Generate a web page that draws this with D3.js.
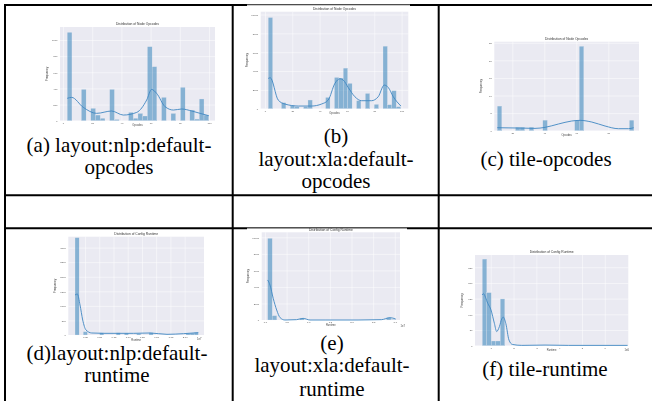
<!DOCTYPE html>
<html>
<head>
<meta charset="utf-8">
<script src="https://cdn.jsdelivr.net/npm/d3@7"></script>
<style>
  html, body { margin: 0; padding: 0; background: #fff; }
  svg { display: block; }
</style>
</head>
<body>
<div id="plot"></div>
<script>
// histogram counts per bin
var nlpOpcodeCounts = [1095,0,0,388,0,153,70,30,0,388,15,0,0,103,30,90,58,917,669,0,289,0,90,0,413,0,132,20,269,70];
var xlaOpcodeCounts = [9680,0,0,640,0,350,210,0,210,920,0,0,0,1200,0,3320,3250,4310,2690,0,850,0,1620,0,460,0,6640,420,1910,210];
var tileOpcodeCounts = [7,0,0,0,1,1,0,1,0,0,3,0,0,0,0,0,0,3,24,0,0,0,0,0,0,0,0,0,0,3];
var nlpRuntimeCounts = [3340,0,114,0,0,0,75,0,0,0,75,0,65,0,0,45,0,0,80,0,0,0,0,0,0,0,0,55,65,85];
var xlaRuntimeCounts = [9880,520,0,0,0,0,0,200,0,0,0,0,0,0,0,0,0,0,0,0,0,0,0,0,0,0,280,60];
var tileRuntimeCounts = [276,169,15,15,149];

// kde curves, points [x, count]
var nlpOpcodeKde = [[2.9,277],[5.9,289],[13.9,165],[23,91],[33.3,120],[41.3,70],[50.5,103],[57.3,256],[60.7,388],[64.1,339],[69.9,174],[75.6,132],[81.3,145],[88.2,120],[93.9,91],[99.8,62]];
var xlaOpcodeKde = [[2.4,3216],[3.9,3286],[9.7,919],[14.6,495],[24.4,283],[34.1,283],[41.4,495],[46.3,919],[51.2,2686],[54.9,3180],[57.3,3039],[60.9,2261],[65.8,1272],[70.7,848],[78,848],[82.9,1272],[87.3,2509],[90.2,2261],[93.9,1272],[99.5,283]];
var tileOpcodeKde = [[10.6,0.85],[23.8,0.76],[34.2,0.66],[40.5,0.95],[48.8,1.9],[57.1,2.75],[62.4,2.94],[69.7,2.46],[78,1.33],[86.3,0.57],[92.6,0.57],[95.9,0.85]];
var nlpRuntimeKde = [[0.074,1373],[0.115,1407],[0.162,1030],[0.209,515],[0.267,172],[0.367,69],[0.57,57],[0.81,57],[1.1,57],[1.39,69],[1.69,23],[1.98,46],[2.24,80]];
var xlaRuntimeKde = [[0.062,4839],[0.115,4234],[0.19,2621],[0.27,1210],[0.35,282],[0.46,0],[0.73,40],[0.88,200],[1.04,0],[1.39,0],[2.15,0],[2.69,40],[2.89,282],[3.02,120]];
var tileRuntimeKde = [[0.63,162],[0.67,166],[0.87,135],[1.01,114],[1.16,71],[1.26,45],[1.38,61],[1.48,85],[1.55,91],[1.66,71],[1.8,18],[1.95,4],[2.36,1],[3.38,2],[4.4,1],[7.0,1]];

// tick values
var opcodeTicks = [0,20,40,60,80,100];
var tileOpcodeTicks = [20,40,60,80];
var nlpRuntimeTicks = [0.25,0.5,0.75,1,1.25,1.5,1.75,2];
var xlaRuntimeTicks = [0,0.5,1,1.5,2,2.5,3];
var tileRuntimeTicks = [1,2,3,4,5,6];
var yTicksA = [0,200,400,600,800,1000];
var yTicksB = [0,2000,4000,6000,8000,10000];
var yTicksC = [0,5,10,15,20,25];
var yTicksD = [0,500,1000,1500,2000,2500,3000];
var yTicksF = [0,50,100,150,200,250];

var captions = [
  {lines: ["(a) layout:nlp:default-", "opcodes"], x: 119, ys: [152, 174]},
  {lines: ["(b)", "layout:xla:default-", "opcodes"], x: 336, ys: [142.5, 166, 188]},
  {lines: ["(c) tile-opcodes"], x: 546, ys: [165.5]},
  {lines: ["(d)layout:nlp:default-", "runtime"], x: 117, ys: [360, 382]},
  {lines: ["(e)", "layout:xla:default-", "runtime"], x: 332, ys: [350, 372, 395.5]},
  {lines: ["(f) tile-runtime"], x: 545, ys: [375.5]}
];

var panels = [
  {title: "Distribution of Node Opcodes", xlabel: "Opcodes", counts: nlpOpcodeCounts, kde: nlpOpcodeKde,
   binStart: 2.9, binWidth: 3.23, xDomain: [-2.05, 104.1], yMax: 1161, xTicks: opcodeTicks, yTicks: yTicksA,
   box: [60, 27, 215, 120.7], fmt: d3.format("d")},
  {title: "Distribution of Node Opcodes", xlabel: "Opcodes", counts: xlaOpcodeCounts, kde: xlaOpcodeKde,
   binStart: 2.41, binWidth: 3.23, xDomain: [-3.1, 104.9], yMax: 10300, xTicks: opcodeTicks, yTicks: yTicksB,
   box: [260.7, 11.7, 408.3, 108.7], fmt: d3.format("d"), sheet: [247, 5, 410, 117]},
  {title: "Distribution of Node Opcodes", xlabel: "Opcodes", counts: tileOpcodeCounts, kde: tileOpcodeKde,
   binStart: 10.6, binWidth: 2.847, xDomain: [8.75, 99.2], yMax: 25.3, xTicks: tileOpcodeTicks, yTicks: yTicksC,
   box: [494.3, 41.7, 639, 130.7], fmt: d3.format("d")},
  {title: "Distribution of Config Runtime", xlabel: "Runtime", counts: nlpRuntimeCounts, kde: nlpRuntimeKde,
   binStart: 0.074, binWidth: 0.0722, xDomain: [-0.044, 2.34], yMax: 3375, xTicks: nlpRuntimeTicks, yTicks: yTicksD,
   box: [68.3, 236.7, 204, 335], fmt: d3.format(".2f"), offset: ["1e7", 197, 340.2]},
  {title: "Distribution of Config Runtime", xlabel: "Runtime", counts: xlaRuntimeCounts, kde: xlaRuntimeKde,
   binStart: 0.062, binWidth: 0.1056, xDomain: [-0.076, 3.12], yMax: 10605, xTicks: xlaRuntimeTicks, yTicks: yTicksB,
   box: [261.7, 232.3, 400, 320], fmt: d3.format(".1f"), offset: ["1e7", 400.5, 326.5], sheet: [247, 228.3, 407, 331]},
  {title: "Distribution of Config Runtime", xlabel: "Runtime", counts: tileRuntimeCounts, kde: tileRuntimeKde,
   binStart: 0.63, binWidth: 0.197, xDomain: [0.31, 7.03], yMax: 289, xTicks: tileRuntimeTicks, yTicks: yTicksF,
   box: [475, 255, 628.3, 345.7], fmt: d3.format("d"), offset: ["1e6", 624.5, 351]}
];

var svg = d3.select("div#plot").append("svg")
    .attr("width", 652)
    .attr("height", 401);

var defs = svg.append("defs");
defs.append("filter").attr("id", "soft")
    .append("feGaussianBlur").attr("stdDeviation", 0.3);

// table grid
var tableLines = svg.append("g").attr("stroke", "#000").attr("stroke-width", 2);
[5, 232.7, 438.7].forEach(function(x) {
  tableLines.append("line").attr("x1", x).attr("x2", x).attr("y1", 4).attr("y2", 401);
});
[5, 195.3, 228.3].forEach(function(y) {
  tableLines.append("line").attr("x1", 4).attr("x2", 652).attr("y1", y).attr("y2", y);
});

panels.forEach(drawPanel);

function drawPanel(p) {
  var left = p.box[0], top = p.box[1], right = p.box[2], bottom = p.box[3];

  if (p.sheet) {
    svg.append("rect")
        .attr("x", p.sheet[0]).attr("y", p.sheet[1])
        .attr("width", p.sheet[2] - p.sheet[0]).attr("height", p.sheet[3] - p.sheet[1])
        .attr("fill", "#fff");
    svg.append("line")
        .attr("x1", p.sheet[0]).attr("x2", p.sheet[2])
        .attr("y1", p.sheet[1]).attr("y2", p.sheet[1])
        .attr("stroke", "#9a9a9a").attr("stroke-width", 1);
  }

  var g = svg.append("g").attr("filter", "url(#soft)");

  var x = d3.scaleLinear().domain(p.xDomain).range([left, right]);
  var y = d3.scaleLinear().domain([0, p.yMax]).range([bottom, top]);

  g.append("rect")
      .attr("x", left).attr("y", top)
      .attr("width", right - left).attr("height", bottom - top)
      .attr("fill", "#eaeaf2");

  // grid lines + tick labels from the axes
  g.append("g")
      .attr("transform", "translate(0," + bottom + ")")
      .call(d3.axisBottom(x).tickValues(p.xTicks).tickFormat(p.fmt)
        .tickSize(-(bottom - top)).tickPadding(1.2))
      .call(styleAxis);

  g.append("g")
      .attr("transform", "translate(" + left + ",0)")
      .call(d3.axisLeft(y).tickValues(p.yTicks).tickFormat(d3.format("d"))
        .tickSize(-(right - left)).tickPadding(2.5))
      .call(styleAxis);

  var bins = p.counts.map(function(c, i) {
    return {x0: p.binStart + i * p.binWidth, x1: p.binStart + (i + 1) * p.binWidth, count: c};
  }).filter(function(d) { return d.count > 0; });

  g.selectAll(".bar")
      .data(bins)
      .enter().append("rect")
      .attr("class", "bar")
      .attr("x", function(d) { return x(d.x0); })
      .attr("width", function(d) { return x(d.x1) - x(d.x0); })
      .attr("y", function(d) { return y(d.count); })
      .attr("height", function(d) { return bottom - y(d.count); })
      .attr("fill", "#1f77b4")
      .attr("fill-opacity", 0.5)
      .attr("stroke", "#eaeaf2")
      .attr("stroke-width", 0.25);

  g.append("path")
      .datum(p.kde)
      .attr("fill", "none")
      .attr("stroke", "#3f87c2")
      .attr("stroke-width", 0.9)
      .attr("d", d3.line()
        .x(function(d) { return x(d[0]); })
        .y(function(d) { return y(d[1]); })
        .curve(d3.curveMonotoneX));

  g.append("text")
      .attr("x", (left + right) / 2)
      .attr("y", top - 1.8)
      .attr("text-anchor", "middle")
      .attr("font-family", "Liberation Sans, Arial, sans-serif")
      .attr("font-size", 3.3)
      .attr("fill", "#333")
      .text(p.title);

  g.append("text")
      .attr("x", (left + right) / 2)
      .attr("y", bottom + 5.6)
      .attr("text-anchor", "middle")
      .attr("font-family", "Liberation Sans, Arial, sans-serif")
      .attr("font-size", 2.6)
      .attr("fill", "#444")
      .text(p.xlabel);

  g.append("text")
      .attr("transform", "translate(" + (left - 12.5) + "," + ((top + bottom) / 2) + ") rotate(-90)")
      .attr("text-anchor", "middle")
      .attr("font-family", "Liberation Sans, Arial, sans-serif")
      .attr("font-size", 3)
      .attr("fill", "#444")
      .text("Frequency");

  if (p.offset) {
    g.append("text")
        .attr("x", p.offset[1]).attr("y", p.offset[2])
        .attr("font-family", "Liberation Sans, Arial, sans-serif")
        .attr("font-size", 2.6)
        .attr("fill", "#444")
        .text(p.offset[0]);
  }
}

function styleAxis(a) {
  a.select(".domain").remove();
  a.selectAll(".tick line").attr("stroke", "#fff").attr("stroke-width", 0.5);
  a.selectAll(".tick text")
      .attr("font-size", 2.5)
      .attr("font-family", "Liberation Sans, Arial, sans-serif")
      .attr("fill", "#555");
}

// captions under each chart
captions.forEach(function(c) {
  c.lines.forEach(function(line, i) {
    svg.append("text")
        .attr("x", c.x)
        .attr("y", c.ys[i])
        .attr("text-anchor", "middle")
        .attr("font-family", "Liberation Serif, Times New Roman, serif")
        .attr("font-size", 21)
        .attr("fill", "#000")
        .text(line);
  });
});
</script>
</body>
</html>
